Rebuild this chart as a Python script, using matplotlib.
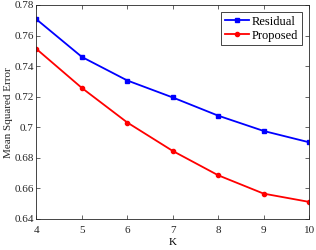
import matplotlib
matplotlib.use('Agg')
import matplotlib.pyplot as plt

K = [4, 5, 6, 7, 8, 9, 10]
residual = [0.7706, 0.7460, 0.7306, 0.7195, 0.7076, 0.6976, 0.6902]
proposed = [0.7512, 0.7257, 0.7031, 0.6845, 0.6686, 0.6566, 0.6512]

plt.rcParams['font.family'] = ['Liberation Serif']
plt.rcParams['font.size'] = 8

fig = plt.figure(figsize=(3.16, 2.5), dpi=100)
ax = fig.add_axes([0.1155, 0.124, 0.8625, 0.856])

ax.plot(K, residual, color='#0000ff', marker='s', markersize=3.5, linewidth=1.3, label='Residual')
ax.plot(K, proposed, color='#ff0000', marker='o', markersize=3, linewidth=1.3, label='Proposed')

ax.set_xlim(4, 10)
ax.set_ylim(0.64, 0.78)
ax.set_xticks(K)
ax.set_yticks([0.64, 0.66, 0.68, 0.7, 0.72, 0.74, 0.76, 0.78])
ax.set_yticklabels(['0.64', '0.66', '0.68', '0.7', '0.72', '0.74', '0.76', '0.78'])
ax.tick_params(direction='in', top=True, right=True, length=3, width=0.5,
               colors='#262626', labelcolor='#262626', labelsize=8)
ax.tick_params(axis='x', pad=5)
ax.tick_params(axis='y', pad=2)
for s in ax.spines.values():
    s.set_linewidth(0.6)
    s.set_color('#262626')

ax.set_xlabel('K', labelpad=2)
fig.text(8.5 / 316, 0.55, 'Mean Squared Error', rotation=90, ha='center', va='center',
         fontsize=8, color='#262626')

leg = ax.legend(loc='upper right', fancybox=False, edgecolor='#262626', framealpha=1,
                fontsize=9, handlelength=1.9, borderpad=0.3, labelspacing=0.15,
                handletextpad=0.25, borderaxespad=0.55)
leg.get_frame().set_linewidth(0.6)

fig.savefig('out.png', dpi=100)
